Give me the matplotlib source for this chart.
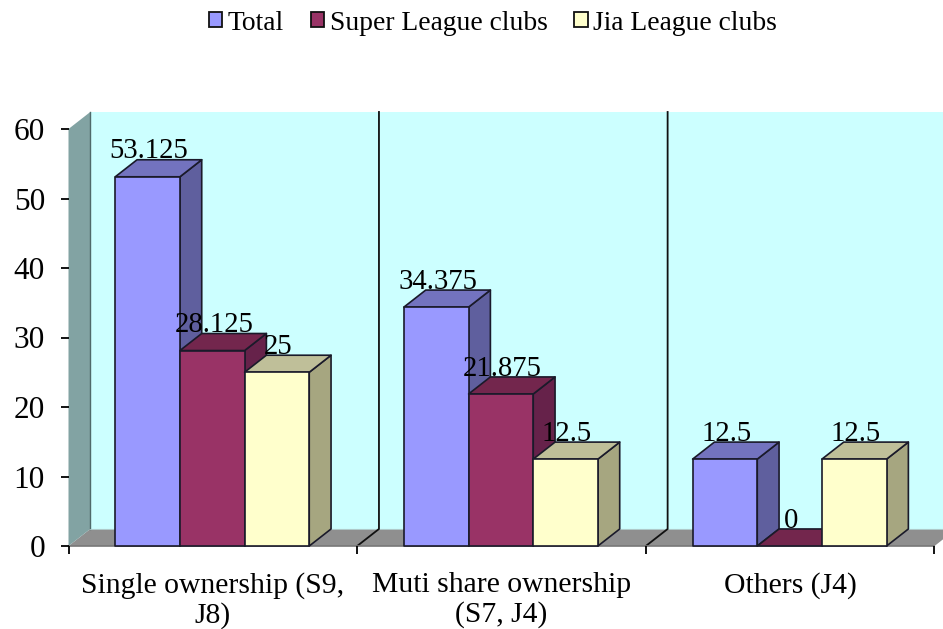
import matplotlib
matplotlib.use("Agg")
import matplotlib.pyplot as plt
from matplotlib.patches import Polygon, Rectangle

# Data
categories = ["Single ownership (S9,\nJ8)", "Muti share ownership\n(S7, J4)", "Others (J4)"]
series_names = ["Total", "Super League clubs", "Jia League clubs"]
total = [53.125, 34.375, 12.5]
super_league = [28.125, 21.875, 0]
jia_league = [25, 12.5, 12.5]
value_labels = [["53.125", "34.375", "12.5"], ["28.125", "21.875", "0"], ["25", "12.5", "12.5"]]
yticks = [0, 10, 20, 30, 40, 50, 60]

# front, top, side colours per series
COLORS = [
    ("#9999FF", "#7373BF", "#5F5F9E"),
    ("#993366", "#73264D", "#66224A"),
    ("#FFFFCC", "#BFBF99", "#A6A680"),
]
WALL = "#CCFFFF"
SIDE_WALL = "#82A3A3"
FLOOR = "#8F8F8F"
EDGE = "#1a1a2a"

# 3d look: offset of the back plane in data units
DX = 0.0755
DY = 2.45
BAR_W = 0.224
GROUP_PAD = 0.162

plt.rcParams["font.family"] = ["Liberation Serif", "DejaVu Serif"]

fig = plt.figure(figsize=(9.43, 6.29), dpi=100)
ax = fig.add_axes([68.5 / 943, 83 / 629, 866 / 943, 417 / 629])
ax.set_xlim(0, 3)
ax.set_ylim(0, 60)
ax.patch.set_visible(False)
for s in ax.spines.values():
    s.set_visible(False)


def poly(pts, fc, ec="none", lw=0.0, z=1):
    ax.add_patch(Polygon(pts, closed=True, fc=fc, ec=ec, lw=lw, zorder=z,
                         clip_on=False, joinstyle="round"))


# walls and floor
top = 60
poly([(DX, DY), (3 + DX, DY), (3 + DX, top + DY), (DX, top + DY)], WALL)
poly([(0, 0), (DX, DY), (3 + DX, DY), (3, 0)], FLOOR)
poly([(0, 0), (DX, DY), (DX, top + DY), (0, top)], SIDE_WALL)
ax.plot([DX, DX], [DY, top + DY], color="#4f6a6a", lw=1.0, clip_on=False, zorder=1.5)
ax.plot([DX, 3 + DX], [DY, DY], color="#b5d5d5", lw=0.6, clip_on=False, zorder=1.5)

# category dividers
for i in (1, 2):
    ax.plot([i, i + DX, i + DX], [0, DY, top + DY], color="#111111", lw=1.3,
            clip_on=False, zorder=1.6, solid_joinstyle="miter")

# bars, left to right so later ones cover the side face of earlier ones
z = 2
for g in range(len(categories)):
    for k, vals in enumerate([total, super_league, jia_league]):
        v = vals[g]
        x0 = g + GROUP_PAD + k * BAR_W
        x1 = x0 + BAR_W
        front, topc, side = COLORS[k]
        poly([(x1, 0), (x1 + DX, DY), (x1 + DX, v + DY), (x1, v)], side, EDGE, 1.2, z)
        poly([(x0, v), (x0 + DX, v + DY), (x1 + DX, v + DY), (x1, v)], topc, EDGE, 1.2, z)
        if v > 0:
            poly([(x0, 0), (x1, 0), (x1, v), (x0, v)], front, EDGE, 1.2, z + 0.1)
        z += 0.2

# value labels
for g in range(len(categories)):
    for k, vals in enumerate([total, super_league, jia_league]):
        xc = g + GROUP_PAD + (k + 0.5) * BAR_W + 0.005
        ax.text(xc, vals[g] + 2.65, value_labels[k][g], ha="center", va="baseline",
                fontsize=20.7, color="black", zorder=20, clip_on=False)

# base line under the floor
ax.plot([0, 3], [0, 0], color="#777777", lw=1.2, clip_on=False, zorder=1.8)

ax.set_yticks(yticks)
ax.set_xticks([0, 1, 2, 3])
ax.set_xticklabels([])
ax.tick_params(axis="both", length=6, width=1.3, color="black")
ax.tick_params(axis="y", labelsize=22.5, pad=11)
ax.set_axisbelow(False)

# category labels sit between the ticks
for i, name in enumerate(categories):
    ax.annotate(name, xy=(i + 0.5, 0), xytext=(0, -19), xycoords="data",
                textcoords="offset points", ha="center", va="top",
                fontsize=21.3, linespacing=1.15, annotation_clip=False)

handles = [Rectangle((0, 0), 1, 1, fc=c[0], ec="#111111", lw=1.3) for c in COLORS]
fig.legend(handles, series_names, loc="center", bbox_to_anchor=(493 / 943, 1 - 23 / 629),
           ncol=3, frameon=False, fontsize=19.8, handlelength=0.48, handleheight=0.48,
           handletextpad=0.2, columnspacing=0.98, borderpad=0)

fig.savefig("out.png", dpi=100)
